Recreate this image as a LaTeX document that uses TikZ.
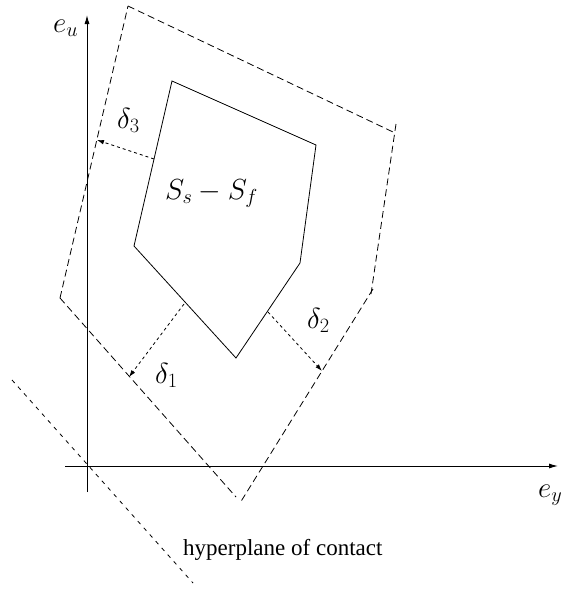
\RequirePackage{fix-cm}
\documentclass[tikz,border=0pt]{standalone}
\usepackage[no-math]{fontspec}
\setmainfont{Liberation Serif}
\usetikzlibrary{arrows.meta}
\begin{document}
\begin{tikzpicture}[x=1pt,y=-1pt,
  axis/.style={line width=1pt,-{Latex[length=9pt,width=5pt]}},
  body/.style={line width=0.8pt,line join=miter},
  offset/.style={line width=0.8pt,dash pattern=on 7pt off 4pt},
  contact/.style={line width=0.8pt,dash pattern=on 4pt off 5pt},
  gap/.style={line width=0.8pt,dash pattern=on 3pt off 3pt,-{Latex[length=7pt,width=4.5pt]}},
  mlabel/.style={inner sep=0pt,anchor=base west,font=\fontsize{29}{34}\selectfont},
  tlabel/.style={inner sep=0pt,anchor=base west,font=\fontsize{23}{27}\selectfont}]
\useasboundingbox (0,0) rectangle (564,590);
% axes
\coordinate (yL) at (65,466);
\coordinate (yR) at (558,466);
\coordinate (uB) at (87,492);
\coordinate (uT) at (87,15);
\draw[axis] (yL) -- (yR);
\draw[axis] (uB) -- (uT);
% solid polygon
\coordinate (s1) at (172,81);
\coordinate (s2) at (316,145);
\coordinate (s3) at (300,263);
\coordinate (s4) at (236,358);
\coordinate (s5) at (134,246);
\draw[body] (s1) -- (s2) -- (s3) -- (s4) -- (s5) -- cycle;
% dashed offset polygon
\coordinate (d1) at (128,6);
\coordinate (d2) at (393,132);
\coordinate (d3) at (396,124);
\coordinate (d4) at (371,294);
\coordinate (d5) at (373,289);
\coordinate (d6) at (240,503);
\coordinate (d7) at (236,497);
\coordinate (d8) at (60,298);
\draw[offset] (d1) -- (d2);
\draw[offset] (d3) -- (d4);
\draw[offset] (d5) -- (d6);
\draw[offset] (d8) -- (d7);
\draw[offset] (d8) -- (d1);
% hyperplane of contact
\coordinate (h1) at (12,380);
\coordinate (h2) at (193,583);
\draw[contact] (h1) -- (h2);
% offset distances
\coordinate (g3a) at (154,159);
\coordinate (g3b) at (97,140);
\coordinate (g1a) at (184,304);
\coordinate (g1b) at (129,377);
\coordinate (g2a) at (268,312);
\coordinate (g2b) at (322,371);
\draw[gap] (g3a) -- (g3b);
\draw[gap] (g1a) -- (g1b);
\draw[gap] (g2a) -- (g2b);
% labels
\node[mlabel] (leu) at (53,32) {$e_u$};
\node[mlabel] (ley) at (538,497) {$e_y$};
\node[mlabel] (ld3) at (117,128) {$\delta_3$};
\node[mlabel] (ld1) at (155,383) {$\delta_1$};
\node[mlabel] (ld2) at (307,328) {$\delta_2$};
\node[mlabel] (lS) at (165,199) {$S_s - S_f$};
\node[tlabel] (lh) at (183,555) {hyperplane of contact};
\end{tikzpicture}
\end{document}
